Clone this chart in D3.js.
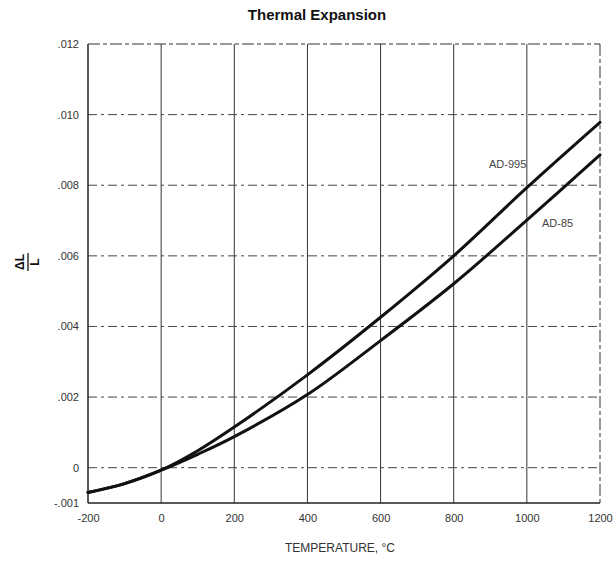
<!DOCTYPE html>
<html>
<head>
<meta charset="utf-8">
<script src="https://cdn.jsdelivr.net/npm/d3@7/dist/d3.min.js"></script>
<style>
  html, body { margin: 0; padding: 0; background: #fff; }
  svg { display: block; }
</style>
</head>
<body>
<svg id="chart" width="616" height="566"></svg>
<script>
// Temperature (°C) at which the expansion was read
const temps = [-200, -100, 0, 100, 200, 400, 600, 800, 1000, 1200];
// ΔL/L for each alumina grade
const ad995 = [-0.00070, -0.00045, -0.00007, 0.00048, 0.00115, 0.00263, 0.00426, 0.00600, 0.00793, 0.00978];
const ad85  = [-0.00070, -0.00045, -0.00007, 0.00038, 0.00088, 0.00207, 0.00360, 0.00521, 0.00701, 0.00886];
const xTicks = [-200, 0, 200, 400, 600, 800, 1000, 1200];
const xTickLabels = ["-200", "0", "200", "400", "600", "800", "1000", "1200"];
const yTicks = [-0.001, 0, 0.002, 0.004, 0.006, 0.008, 0.010, 0.012];
const yTickLabels = ["-.001", "0", ".002", ".004", ".006", ".008", ".010", ".012"];
const seriesNames = ["AD-995", "AD-85"];

const svg = d3.select("#chart");
const plotL = 88, plotR = 600, plotT = 44, plotB = 503;

const x = d3.scaleLinear().domain([-200, 1200]).range([plotL, plotR]);
const y = d3.scaleLinear().domain([-0.001, 0.012]).range([plotB, plotT]);

const ink = "#222";
const font = "Liberation Sans, Arial, sans-serif";
const grid = svg.append("g");

// vertical grid lines
grid.selectAll("line.v").data(xTicks.slice(1, -1)).join("line")
  .attr("x1", d => x(d)).attr("x2", d => x(d))
  .attr("y1", plotT).attr("y2", plotB)
  .attr("stroke", "#333").attr("stroke-width", 1);

// horizontal grid lines (dashed)
grid.selectAll("line.h").data(yTicks.slice(1, -1)).join("line")
  .attr("x1", plotL).attr("x2", plotR)
  .attr("y1", d => y(d)).attr("y2", d => y(d))
  .attr("stroke", "#444").attr("stroke-width", 1)
  .attr("stroke-dasharray", "9,4,3,4");

// frame: solid left/bottom, dashed top/right
grid.append("line").attr("x1", plotL).attr("x2", plotL).attr("y1", plotT).attr("y2", plotB)
  .attr("stroke", ink).attr("stroke-width", 1.5);
grid.append("line").attr("x1", plotL).attr("x2", plotR).attr("y1", plotB).attr("y2", plotB)
  .attr("stroke", ink).attr("stroke-width", 1.5);
grid.append("line").attr("x1", plotL).attr("x2", plotR).attr("y1", plotT).attr("y2", plotT)
  .attr("stroke", "#333").attr("stroke-width", 1).attr("stroke-dasharray", "12,3,4,3");
grid.append("line").attr("x1", plotR).attr("x2", plotR).attr("y1", plotT).attr("y2", plotB)
  .attr("stroke", "#333").attr("stroke-width", 1).attr("stroke-dasharray", "12,3,4,3");

// tick labels via d3 axes, axis lines hidden
const xAxis = d3.axisBottom(x).tickValues(xTicks).tickSize(0).tickPadding(11)
  .tickFormat((d, i) => xTickLabels[i]);
const yAxis = d3.axisLeft(y).tickValues(yTicks).tickSize(0).tickPadding(9)
  .tickFormat((d, i) => yTickLabels[i]);

const gx = svg.append("g").attr("transform", `translate(0,${plotB})`).call(xAxis);
const gy = svg.append("g").attr("transform", `translate(${plotL},0)`).call(yAxis);
[gx, gy].forEach(g => {
  g.select(".domain").remove();
  g.selectAll("text").attr("font-family", font)
    .attr("font-size", 11).attr("fill", "#333");
});

// curves
const line = d3.line().x((d, i) => x(temps[i])).y(d => y(d)).curve(d3.curveCatmullRom.alpha(0.5));
[ad995, ad85].forEach(s => {
  svg.append("path").datum(s).attr("d", line)
    .attr("fill", "none").attr("stroke", "#111").attr("stroke-width", 3)
    .attr("stroke-linecap", "round");
});

// series labels
svg.append("text").attr("x", 489).attr("y", 168).text(seriesNames[0])
  .attr("font-family", font).attr("font-size", 11).attr("fill", "#444");
svg.append("text").attr("x", 542).attr("y", 227).text(seriesNames[1])
  .attr("font-family", font).attr("font-size", 11).attr("fill", "#444");

// title
svg.append("text").attr("x", 317).attr("y", 20).attr("text-anchor", "middle")
  .attr("font-family", font).attr("font-size", 15)
  .attr("font-weight", "bold").attr("fill", "#111").text("Thermal Expansion");

// x axis title
svg.append("text").attr("x", 340).attr("y", 552).attr("text-anchor", "middle")
  .attr("font-family", font).attr("font-size", 12)
  .attr("fill", "#333").text("TEMPERATURE, °C");

// y axis title: ΔL over L, rotated
const yt = svg.append("g").attr("transform", "translate(28,262) rotate(-90)");
yt.append("text").attr("x", 0).attr("y", -4).attr("text-anchor", "middle")
  .attr("font-family", font).attr("font-size", 12)
  .attr("font-weight", "bold").attr("fill", "#111").text("ΔL");
yt.append("line").attr("x1", -9).attr("x2", 9).attr("y1", 0).attr("y2", 0)
  .attr("stroke", "#111").attr("stroke-width", 1.3);
yt.append("text").attr("x", 0).attr("y", 11).attr("text-anchor", "middle")
  .attr("font-family", font).attr("font-size", 12)
  .attr("font-weight", "bold").attr("fill", "#111").text("L");
</script>
</body>
</html>
